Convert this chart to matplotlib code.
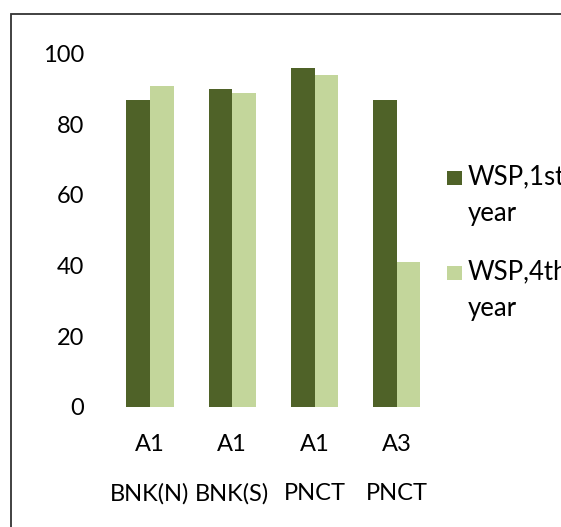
import matplotlib
matplotlib.use("Agg")
import matplotlib.pyplot as plt
from matplotlib.patches import Rectangle
import numpy as np

categories = ["A1\nBNK(N)", "A1\nBNK(S)", "A1\nPNCT", "A3\nPNCT"]
series_names = ["WSP,1st\nyear", "WSP,4th\nyear"]
wsp_1st = [87, 90, 96, 87]
wsp_4th = [91, 89, 94, 41]
colors = ["#4F6228", "#C3D69B"]
yticks = [0, 20, 40, 60, 80, 100]

plt.rcParams['font.family'] = ['Lato', 'DejaVu Sans']
FS = 17
LFS = 18.5

W, H = 561, 527
fig = plt.figure(figsize=(W/100, H/100), dpi=100)
ax = fig.add_axes([108.8/W, (H-406.7)/H, 329.2/W, 352.9/H])

x = np.arange(len(categories))
bw = 0.287
ax.bar(x - bw/2, wsp_1st, width=bw, color=colors[0])
ax.bar(x + bw/2, wsp_4th, width=bw, color=colors[1])

ax.set_xlim(-0.5, len(categories) - 0.5)
ax.set_ylim(0, 100)
ax.set_yticks(yticks)
ax.set_yticklabels([str(v) for v in yticks], fontsize=FS)
ax.set_xticks(x)
ax.set_xticklabels(categories, fontsize=FS, linespacing=2.6)
ax.tick_params(axis='y', length=0, pad=18)
ax.tick_params(axis='x', length=0, pad=20)
for s in ax.spines.values():
    s.set_visible(False)

# manual legend
for i, (name, c) in enumerate(zip(series_names, colors)):
    y_top = 171 + i * 95
    fig.add_artist(Rectangle((447/W, 1 - (y_top + 14)/H), 14.5/W, 14/H,
                             transform=fig.transFigure, color=c, lw=0))
    fig.text(468/W, 1 - (y_top - 7)/H, name, fontsize=LFS, va='top', ha='left',
             linespacing=1.62)

# outer border
fig.add_artist(Rectangle((10.5/W, -0.05), 1.1, (H - 13.5)/H + 0.05,
                         transform=fig.transFigure, fill=False,
                         edgecolor='#333333', lw=1.3))

fig.savefig("out.png", dpi=100)
